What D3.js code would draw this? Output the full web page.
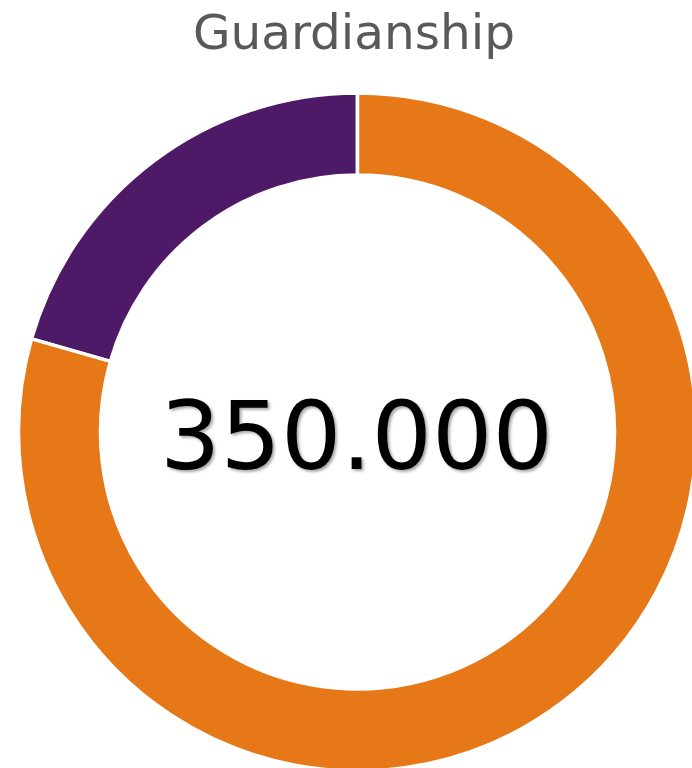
<!DOCTYPE html>
<html>
<head>
<meta charset="utf-8">
<script src="https://cdn.jsdelivr.net/npm/d3@7"></script>
<style>
  body { margin: 0; background: #fff; }
  svg { display: block; }
  .total { text-shadow: 2px 2px 3px rgba(0,0,0,0.35); }
</style>
</head>
<body>
<div id="chart"></div>
<script>
// chart data
var title = "Guardianship";
var categories = ["Other", "Guardianship"];
var values = [72000, 278000];
var colors = ["#4E1966", "#E67818"];
var totalLabel = "350.000";

var width = 692, height = 768,
    cx = 357.5, cy = 432,
    outerR = 339, innerR = 257;

var svg = d3.select("#chart").append("svg")
    .attr("width", width)
    .attr("height", height);

var color = d3.scaleOrdinal().domain(categories).range(colors);

// slices run clockwise from 12 o'clock, purple ends at the top going backwards
var pie = d3.pie()
    .sort(null)
    .value(function(d) { return d.value; })
    .startAngle(-2 * Math.PI * values[0] / d3.sum(values))
    .endAngle(2 * Math.PI - 2 * Math.PI * values[0] / d3.sum(values));

var arc = d3.arc().innerRadius(innerR).outerRadius(outerR);

var data = categories.map(function(c, i) { return {name: c, value: values[i]}; });

var g = svg.append("g").attr("transform", "translate(" + cx + "," + cy + ")");

g.selectAll("path")
    .data(pie(data))
    .enter().append("path")
    .attr("d", arc)
    .attr("fill", function(d) { return color(d.data.name); })
    .attr("stroke", "#fff")
    .attr("stroke-width", 3.5);

g.append("text")
    .attr("class", "total")
    .attr("text-anchor", "middle")
    .attr("x", -1)
    .attr("y", 37)
    .style("font-family", "'DejaVu Sans', Verdana, sans-serif")
    .style("font-size", "95px")
    .attr("fill", "#000")
    .text(totalLabel);

svg.append("text")
    .attr("text-anchor", "middle")
    .attr("x", 354)
    .attr("y", 49)
    .style("font-family", "'DejaVu Sans', Verdana, sans-serif")
    .style("font-size", "48.5px")
    .attr("fill", "#595959")
    .text(title);
</script>
</body>
</html>
